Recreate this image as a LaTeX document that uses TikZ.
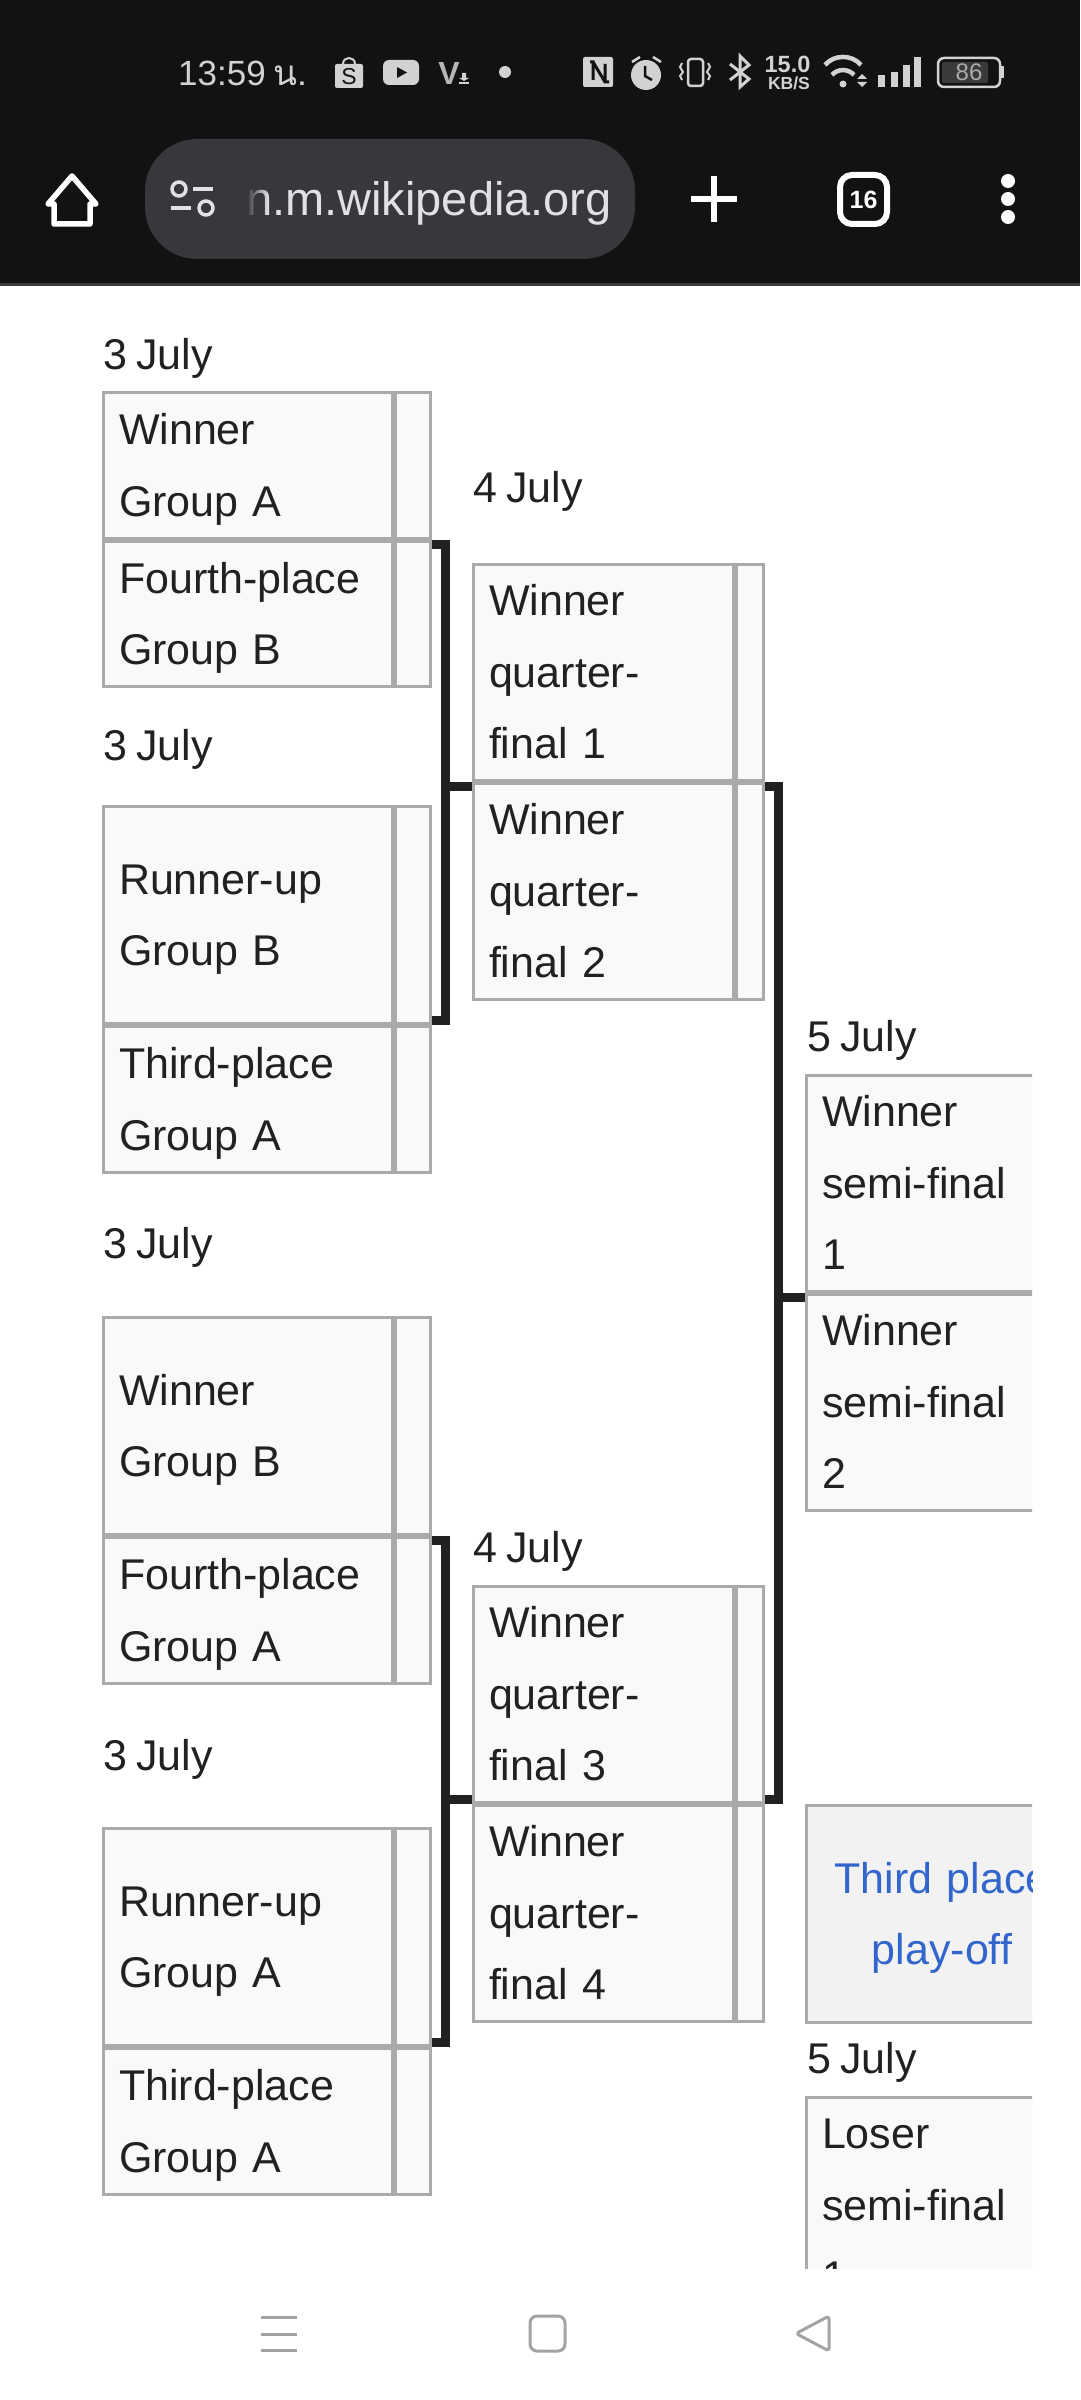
\documentclass[tikz,border=0pt]{standalone}
\usepackage{fontspec}
\setmainfont[WordSpace=0.75]{Liberation Sans}
\newfontfamily\thaifont[Script=Thai]{Loma}
\usepackage{tikz}
\usetikzlibrary{fadings}
\definecolor{barblack}{HTML}{121212}
\definecolor{barline}{HTML}{3A3A3A}
\definecolor{pillgrey}{HTML}{36383C}
\definecolor{iconlight}{HTML}{D2D2D2}
\definecolor{urlgrey}{HTML}{DFE1E5}
\definecolor{navgrey}{HTML}{A3A3A3}
\definecolor{cellfill}{HTML}{F9F9F9}
\definecolor{cellgrey}{HTML}{F2F2F2}
\definecolor{cellrule}{HTML}{AAAAAA}
\definecolor{inkdark}{HTML}{202122}
\definecolor{linkblue}{HTML}{3366CC}
\newcommand{\cellstrut}{\rule[-21pt]{0pt}{71.5pt}}
\tikzset{
  basecell/.style={draw=cellrule,fill=cellfill,line width=3pt,anchor=north west,inner ysep=0pt,outer sep=0pt},
  teamcell/.style={basecell,text=inkdark,inner xsep=15.5pt,align=left,font=\fontsize{43}{71.5}\selectfont,
    execute at begin node=\cellstrut,execute at end node=\cellstrut},
  scorecell/.style={basecell,inner xsep=0pt},
  datelabel/.style={text=inkdark,anchor=base west,inner sep=0pt,font=\fontsize{43}{50}\selectfont},
  bracketline/.style={draw=inkdark,line width=9pt},
  navmark/.style={draw=navgrey,line width=3pt,line join=round}
}
\begin{document}
\begin{tikzpicture}[x=1pt,y=-1pt]
  \useasboundingbox (0,0) rectangle (1080,2400);
  \fill[white] (0,0) rectangle (1080,2400);
  \fill[barblack] (0,0) rectangle (1080,283);
  \fill[barline] (0,283) rectangle (1080,286);

  \node[text=iconlight,anchor=base west,inner sep=0pt,font=\fontsize{35}{40}\selectfont] (clock) at (178,86) {13:59 {\thaifont น.}};
  \fill[iconlight,rounded corners=2pt] (335,64) rectangle (363,88);
  \draw[iconlight,line width=2pt] (343,64) .. controls (343,56) and (355,56) .. (355,64);
  \node[text=barblack,inner sep=0pt,font=\fontsize{23}{24}\selectfont] (shopmark) at (349,77) {S};
  \fill[iconlight,rounded corners=6pt] (383,60) rectangle (419,85);
  \fill[barblack] (397,67) -- (397,78) -- (407,72.5) -- cycle;
  \node[text=iconlight!85!barblack,inner sep=0pt,font=\bfseries\fontsize{32}{32}\selectfont] (vmark) at (449,73) {V};
  \fill[iconlight] (462,73) rectangle (466,78) (459,78) -- (469,78) -- (464,81) -- cycle;
  \draw[iconlight,line width=1.5pt] (459,83) -- (469,83);
  \fill[iconlight] (505,72) circle (6);
  \fill[iconlight,rounded corners=2pt] (583,57) rectangle (613,87);
  \draw[barblack,line width=3pt] (590,62) -- (593,62) -- (593,80) (593,62) -- (605,82) (605,64) -- (605,82) -- (609,82);
  \fill[iconlight] (646,75) circle (15);
  \draw[barblack,line width=2.5pt] (645,66) -- (645,76) -- (652,80);
  \draw[iconlight,line width=2.5pt] (632,62) -- (640,57) (661,62) -- (653,57);
  \draw[iconlight,line width=2.5pt,rounded corners=3pt] (688,59) rectangle (703,86);
  \draw[iconlight,line width=2pt] (682,63) -- (680,67) -- (683,72) -- (680,76) -- (682,80);
  \draw[iconlight,line width=2pt] (708,63) -- (710,67) -- (707,72) -- (710,76) -- (708,80);
  \draw[iconlight,line width=3pt] (730,64) -- (749,79) -- (740,87) -- (740,56) -- (749,65) -- (730,80);
  \node[text=iconlight,inner sep=0pt,font=\bfseries\fontsize{23.5}{24}\selectfont] (speednum) at (787.5,64.5) {15.0};
  \node[text=iconlight,inner sep=0pt,font=\bfseries\fontsize{17.5}{18}\selectfont] (speedunit) at (789,83.5) {KB/S};
  \draw[iconlight,line width=4.5pt] (825,65) to[bend left=50] (861,65);
  \draw[iconlight,line width=4.5pt] (832,75) to[bend left=50] (854,75);
  \fill[iconlight] (843,84) circle (3.5);
  \fill[iconlight] (862,74) -- (857,79) -- (867,79) -- cycle (862,87) -- (857,82) -- (867,82) -- cycle;
  \foreach \barx/\bartop in {878/75,891/72,903/65,914/57}
    \fill[iconlight] (\barx,\bartop) rectangle ++(6.5,87-\bartop);
  \draw[iconlight,line width=2.5pt,rounded corners=6pt] (938,58) rectangle (1000,87);
  \fill[barline,rounded corners=2pt] (942,62) rectangle (988,83);
  \fill[iconlight] (1001,66) rectangle (1004,78);
  \node[text=iconlight!80!barblack,inner sep=0pt,font=\fontsize{24}{26}\selectfont] (batterypct) at (969,72.5) {86};

  \draw[white,line width=5.5pt,line join=round] (72,176) -- (96,204) -- (90,204) -- (90,224) -- (54,224) -- (54,204) -- (48,204) -- cycle;
  \fill[pillgrey,rounded corners=52pt] (145,139) rectangle (635,259);
  \node[text=urlgrey,anchor=base east,inner sep=0pt,font=\fontsize{47}{50}\selectfont] (urltext) at (612,215.5) {n.m.wikipedia.org};
  \fill[pillgrey] (218,165) rectangle (246,235);
  \fill[pillgrey,path fading=east] (246,165) rectangle (268,235);
  \draw[urlgrey,line width=3.5pt] (179,189) circle (7) (206,208) circle (7);
  \draw[urlgrey,line width=4pt] (193,189) -- (213,189) (171,208) -- (191,208);
  \draw[white,line width=5.5pt] (714,176) -- (714,222) (691,199) -- (737,199);
  \draw[white,line width=6pt,rounded corners=12pt] (840,175) rectangle (887,224);
  \node[text=white,inner sep=0pt,font=\bfseries\fontsize{25}{26}\selectfont] (tabcount) at (863.5,199.5) {16};
  \foreach \doty in {181,199,217}
    \fill[white] (1008,\doty) circle (7);

  \foreach \cellname/\top/\hgt/\lbl in {
    a/392.5/146/{Winner\\Group A},
    b/541.5/145/{Fourth-place\\Group B},
    c/806.5/217/{Runner-up\\Group B},
    d/1026.5/146/{Third-place\\Group A},
    e/1317.5/217/{Winner\\Group B},
    f/1537.5/146/{Fourth-place\\Group A},
    g/1828.5/217/{Runner-up\\Group A},
    h/2048.5/146/{Third-place\\Group A}} {
    \node[teamcell,text width=258pt,minimum height=\hgt pt] (t\cellname) at (103.5,\top) {\lbl};
    \node[scorecell,minimum width=35pt,minimum height=\hgt pt] (s\cellname) at (395.5,\top) {};
  }
  \foreach \cellname/\top/\lbl in {
    a/564.5/{Winner\\quarter-\\final 1},
    b/783.5/{Winner\\quarter-\\final 2},
    c/1586.5/{Winner\\quarter-\\final 3},
    d/1805.5/{Winner\\quarter-\\final 4}} {
    \node[teamcell,text width=229pt,minimum height=216pt] (q\cellname) at (473.5,\top) {\lbl};
    \node[scorecell,minimum width=27pt,minimum height=216pt] (r\cellname) at (736.5,\top) {};
  }

  \begin{scope}
    \clip (800,1000) rectangle (1032,2268);
    \node[teamcell,text width=240pt,minimum height=216pt] (fa) at (806.5,1075.5) {Winner\\semi-final\\1};
    \node[teamcell,text width=240pt,minimum height=216pt] (fb) at (806.5,1294.5) {Winner\\semi-final\\2};
    \node[teamcell,fill=cellgrey,text=linkblue,align=center,text width=240pt,minimum height=217pt] (thirdplace) at (806.5,1805.5) {Third place\\play-off};
    \node[teamcell,text width=240pt,minimum height=216pt] (loser) at (806.5,2097.5) {Loser\\semi-final\\1};
  \end{scope}

  \node[datelabel] (dayone) at (103,369) {3 July};
  \node[datelabel] (daytwo) at (103,760) {3 July};
  \node[datelabel] (daythree) at (103,1258) {3 July};
  \node[datelabel] (dayfour) at (103,1770) {3 July};
  \node[datelabel] (dayfive) at (473,502) {4 July};
  \node[datelabel] (daysix) at (473,1562) {4 July};
  \node[datelabel] (dayseven) at (807,1051) {5 July};
  \node[datelabel] (dayeight) at (807,2073) {5 July};

  \coordinate (upperbend) at (445.5,0);
  \coordinate (lowerbend) at (778.5,0);
  \draw[bracketline] ([xshift=1.5pt,yshift=-6pt]sa.south east) -| ([yshift=3pt]upperbend |- sc.south) -- ([xshift=1.5pt,yshift=3pt]sc.south east);
  \draw[bracketline] ([xshift=-1.5pt,yshift=-6pt]qa.south west) -- ([yshift=-6pt]upperbend |- qa.south);
  \draw[bracketline] ([xshift=1.5pt,yshift=-6pt]se.south east) -| ([yshift=3pt]upperbend |- sg.south) -- ([xshift=1.5pt,yshift=3pt]sg.south east);
  \draw[bracketline] ([xshift=-1.5pt,yshift=3pt]qc.south west) -- ([yshift=3pt]upperbend |- qc.south);
  \draw[bracketline] ([xshift=1.5pt,yshift=-6pt]ra.south east) -| ([yshift=3pt]lowerbend |- rc.south) -- ([xshift=1.5pt,yshift=3pt]rc.south east);
  \draw[bracketline] ([xshift=-1.5pt,yshift=-6pt]fa.south west) -- ([yshift=-6pt]lowerbend |- fa.south);

  \draw[navmark] (261,2317) -- (297,2317) (261,2334) -- (297,2334) (261,2350) -- (297,2350);
  \draw[navmark,rounded corners=7pt] (530,2316) rectangle (565,2351);
  \draw[navmark,rounded corners=3pt] (829,2316) -- (796,2333.5) -- (829,2351) -- cycle;
\end{tikzpicture}
\end{document}
